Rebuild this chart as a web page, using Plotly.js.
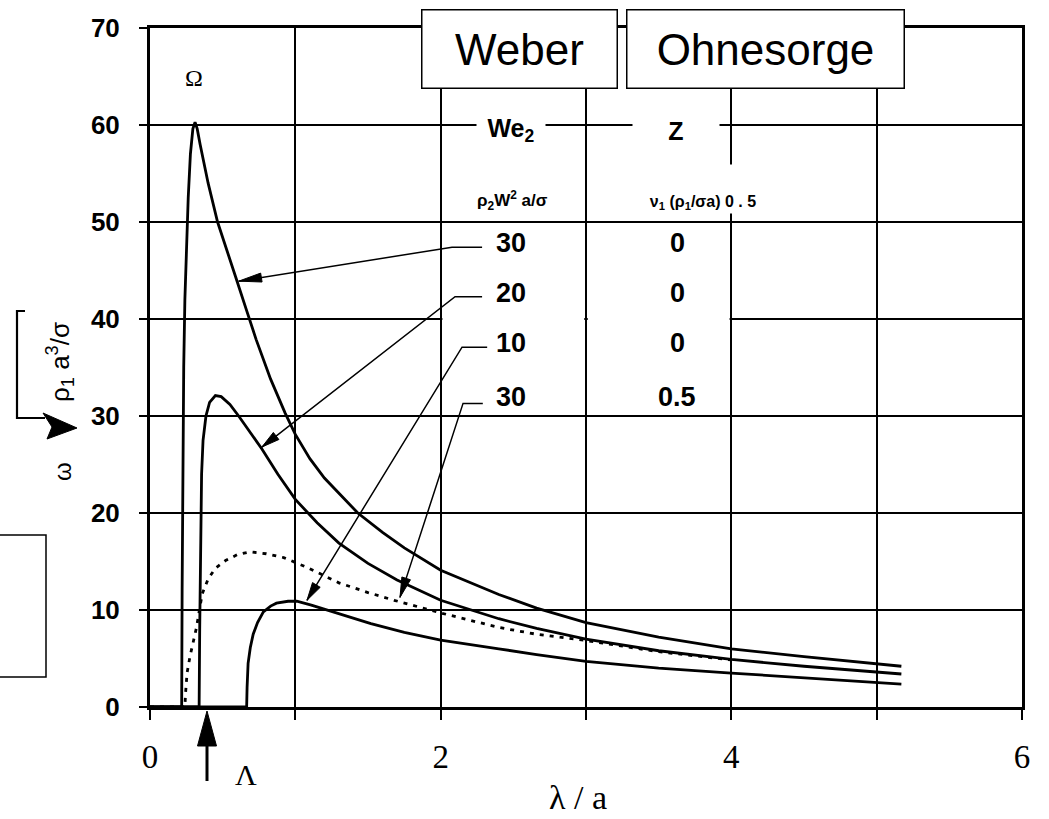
<!DOCTYPE html>
<html><head><meta charset="utf-8">
<script src="https://cdn.plot.ly/plotly-3.0.1.min.js"></script>
<style>html,body{margin:0;padding:0;background:#fff}#chart{width:1049px;height:819px}</style>
</head><body><div id="chart"></div>
<script>
// ---------- data ----------
const lam_we30 = [0,0.218,0.221,0.226,0.232,0.24,0.25,0.263,0.278,0.295,0.31,0.325,0.345,0.37,0.40,0.465,0.52,0.59,0.66,0.73,0.83,0.93,1.0,1.1,1.2,1.43,1.6,1.75,2.0,2.4,2.66,3.0,3.5,4.0,4.5,5.0,5.17];
const om_we30  = [0,0,12,25,35,42,47,52.5,57,59.6,60.3,59.6,58.0,56.2,54.0,50,47.4,44.3,41.1,37.9,33.8,30.3,28.1,25.6,23.6,20.0,18.0,16.4,14.1,11.6,10.2,8.7,7.2,6.0,5.2,4.5,4.2];

const lam_we20 = [0,0.338,0.342,0.348,0.355,0.365,0.385,0.41,0.45,0.49,0.55,0.61,0.69,0.77,0.88,1.0,1.15,1.3,1.5,1.7,2.0,2.4,2.66,3.0,3.5,4.0,4.5,5.0,5.17];
const om_we20  = [0,0,8,18,24,27.5,30,31.4,32.1,32.0,31.2,30.0,28.3,26.6,24,21.4,19,16.9,14.8,13.1,11.0,9.1,8.1,7.0,5.8,4.9,4.2,3.6,3.4];

const lam_we10 = [0,0.665,0.668,0.675,0.69,0.71,0.74,0.78,0.83,0.87,0.95,1.01,1.11,1.3,1.52,1.75,2.0,2.4,2.66,3.0,3.5,4.0,4.5,5.0,5.17];
const om_we10  = [0,0,2,4.5,6.1,7.5,8.7,9.8,10.4,10.7,10.9,10.9,10.5,9.6,8.6,7.7,6.9,6.0,5.4,4.7,4.0,3.5,3.0,2.5,2.35];

const lam_we30z = [0,0.24,0.245,0.255,0.275,0.295,0.32,0.34,0.36,0.40,0.45,0.52,0.60,0.69,0.80,0.92,1.0,1.08,1.3,1.5,1.68,2.0,2.4,2.66,3.0,3.5,4.0];
const om_we30z  = [0,0,1.5,3.5,5.2,6.5,8.2,10,11.7,13.2,14.3,15.1,15.7,16.0,15.8,15.4,14.9,14.4,12.8,11.8,11.0,9.7,8.2,7.5,6.85,5.7,4.85];

const xTickVals = [0,2,4,6];
const xTickText = ['0','2','4','6'];
const xMinorVals = [1,3,5];
const yTickVals = [0,10,20,30,40,50,60,70];

const tableWe = ['30','20','10','30'];
const tableZ  = ['0','0','0','0.5'];

// ---------- layout geometry ----------
const M = {l:150, r:27, t:28, b:112};
const W = 1049 - M.l - M.r, H = 819 - M.t - M.b;
const PX = p => (p - M.l) / W;           // pixel -> paper x
const PY = p => (M.t + H - p) / H;       // pixel -> paper y
const d2px = (x, y) => [M.l + x / 6 * W, M.t + (70 - y) / 70 * H];
const px2d = (px, py) => [(px - M.l) / W * 6, (M.t + H - py) / H * 70];

const lineTrace = (x, y, dash) => ({
  x, y, type: 'scatter', mode: 'lines', hoverinfo: 'skip', showlegend: false,
  line: {color: '#000', width: 2.8, shape: 'linear', dash: dash || 'solid'}
});
const traces = [
  lineTrace(lam_we30, om_we30),
  lineTrace(lam_we20, om_we20),
  lineTrace(lam_we10, om_we10),
  lineTrace(lam_we30z, om_we30z, '4px,6px')
];

// leader lines (label end -> kink -> arrow tip), data coords
const leaderRows = [
  {end: [2.285, 47.4], kink: [2.078, 47.4], tip: [0.61, 43.9], len: 23},
  {end: [2.285, 42.3], kink: [2.099, 42.3], tip: [0.77, 26.8], len: 18},
  {end: [2.32, 37.1],  kink: [2.147, 37.1], tip: [1.08, 11.0], len: 18},
  {end: [2.29, 31.3],  kink: [2.154, 31.3], tip: [1.72, 11.3], len: 20}
];
const rowPy = [243, 293, 343, 397];

const shapes = [];
leaderRows.forEach(r => {
  shapes.push({type: 'path', xref: 'x', yref: 'y', layer: 'above',
    path: `M${r.end[0]},${r.end[1]} L${r.kink[0]},${r.kink[1]} L${r.tip[0]},${r.tip[1]}`,
    line: {color: '#000', width: 1.5}});
  const [tx, ty] = d2px(r.tip[0], r.tip[1]);
  const [sx, sy] = d2px(r.kink[0], r.kink[1]);
  const dx = sx - tx, dy = sy - ty, dd = Math.hypot(dx, dy), ux = dx / dd, uy = dy / dd;
  const bx = tx + ux * r.len, by = ty + uy * r.len, w = 4.5;
  const p1 = px2d(bx - uy * w, by + ux * w), p2 = px2d(bx + uy * w, by - ux * w);
  shapes.push({type: 'path', xref: 'x', yref: 'y', layer: 'above',
    path: `M${r.tip[0]},${r.tip[1]} L${p1[0]},${p1[1]} L${p2[0]},${p2[1]} Z`,
    fillcolor: '#000', line: {color: '#000', width: 1}});
});

// white gaps in the 40 grid line inside the table
shapes.push({type: 'rect', xref: 'x', yref: 'y', x0: 2.012, x1: 2.988, y0: 39.5, y1: 40.5, fillcolor: '#fff', line: {width: 0}, layer: 'between'});
shapes.push({type: 'rect', xref: 'x', yref: 'y', x0: 3.012, x1: 3.988, y0: 39.5, y1: 40.5, fillcolor: '#fff', line: {width: 0}, layer: 'between'});

// Lambda arrow below axis
shapes.push({type: 'path', xref: 'paper', yref: 'paper',
  path: `M${PX(207)},${PY(742)} L${PX(207)},${PY(781)}`, line: {color: '#000', width: 3}});
shapes.push({type: 'path', xref: 'paper', yref: 'paper',
  path: `M${PX(207)},${PY(711)} L${PX(197.5)},${PY(746)} L${PX(216.5)},${PY(746)} Z`,
  fillcolor: '#000', line: {color: '#000', width: 1}});

// radical sign of the y title
shapes.push({type: 'path', xref: 'paper', yref: 'paper',
  path: `M${PX(25)},${PY(311)} L${PX(17)},${PY(311)} L${PX(17)},${PY(418)} L${PX(45)},${PY(418)}`,
  line: {color: '#000', width: 2.2}});
shapes.push({type: 'path', xref: 'paper', yref: 'paper',
  path: `M${PX(43)},${PY(413)} L${PX(77)},${PY(428)} L${PX(47)},${PY(439)} L${PX(52)},${PY(427)} Z`,
  fillcolor: '#000', line: {color: '#000', width: 1}});

// empty box at left
shapes.push({type: 'rect', xref: 'paper', yref: 'paper',
  x0: PX(-5), x1: PX(46), y0: PY(677), y1: PY(535), fillcolor: 'rgba(0,0,0,0)', line: {color: '#000', width: 1.5}});

const sans = 'Liberation Sans, Arial, sans-serif';
const serif = 'Liberation Serif, Times New Roman, serif';
const ann = (px, py, text, font, extra) => Object.assign({
  xref: 'paper', yref: 'paper', x: PX(px), y: PY(py), text, showarrow: false,
  xanchor: 'center', yanchor: 'middle', font: Object.assign({color: '#000'}, font)
}, extra || {});

const annotations = [
  ann(519, 48.5, 'Weber', {family: sans, size: 44}, {bgcolor: '#fff', bordercolor: '#000', borderwidth: 1.5, borderpad: 0, width: 194, height: 77}),
  ann(765, 48.5, 'Ohnesorge', {family: sans, size: 44}, {bgcolor: '#fff', bordercolor: '#000', borderwidth: 1.5, borderpad: 0, width: 276, height: 77}),
  ann(511, 130, 'We<sub>2</sub>', {family: sans, size: 25, weight: 700}, {bgcolor: '#fff', width: 66, height: 28}),
  ann(676, 131, 'Z', {family: sans, size: 25, weight: 700}, {bgcolor: '#fff', width: 84, height: 26}),
  ann(512, 200, 'ρ<sub>2</sub>W<sup>2</sup> a/σ', {family: sans, size: 17, weight: 700}),
  ann(703, 189, 'ν<sub>1</sub> (ρ<sub>1</sub>/σa) 0 . 5', {family: sans, size: 16, weight: 700}, {bgcolor: '#fff', width: 172, height: 46, valign: 'bottom'}),
  ann(194, 78, 'Ω', {family: serif, size: 24}),
  ann(246, 774, 'Λ', {family: serif, size: 30}),
  ann(62, 472, 'ω', {family: sans, size: 24}, {textangle: -90}),
  ann(60, 362, 'ρ<sub>1</sub> a<sup>3</sup>/σ', {family: sans, size: 26}, {textangle: -90}),
  ann(578, 797, 'λ / a', {family: serif, size: 34})
];
tableWe.forEach((t, i) => annotations.push(ann(511, rowPy[i], t, {family: sans, size: 27, weight: 700})));
tableZ.forEach((t, i) => annotations.push(ann(677, rowPy[i], t, {family: sans, size: 27, weight: 700})));

const layout = {
  width: 1049, height: 819, margin: M,
  paper_bgcolor: '#fff', plot_bgcolor: '#fff', showlegend: false,
  xaxis: {range: [0, 6], tickmode: 'array', tickvals: xTickVals, ticktext: xTickText, ticks: 'outside', ticklen: 10, tickwidth: 2,
    tickcolor: '#000', showgrid: true, gridcolor: '#000', gridwidth: 2, showline: true, linecolor: '#000',
    minor: {tickmode: 'array', tickvals: xMinorVals, ticks: 'outside', ticklen: 10, tickwidth: 2, tickcolor: '#000',
      showgrid: true, gridcolor: '#000', gridwidth: 2},
    linewidth: 3, mirror: true, zeroline: false, ticklabelstandoff: 8,
    tickfont: {family: serif, size: 33, color: '#000'}, fixedrange: true},
  yaxis: {range: [0, 70], tickmode: 'array', tickvals: yTickVals, ticks: 'outside', ticklen: 8, tickwidth: 1.5,
    tickcolor: '#000', showgrid: true, gridcolor: '#000', gridwidth: 2, showline: true, linecolor: '#000',
    linewidth: 3, mirror: true, zeroline: false, ticklabelstandoff: 14,
    tickfont: {family: sans, size: 26, weight: 700, color: '#000'}, fixedrange: true},
  shapes, annotations
};
Plotly.newPlot('chart', traces, layout, {staticPlot: true, displayModeBar: false});
</script></body></html>
